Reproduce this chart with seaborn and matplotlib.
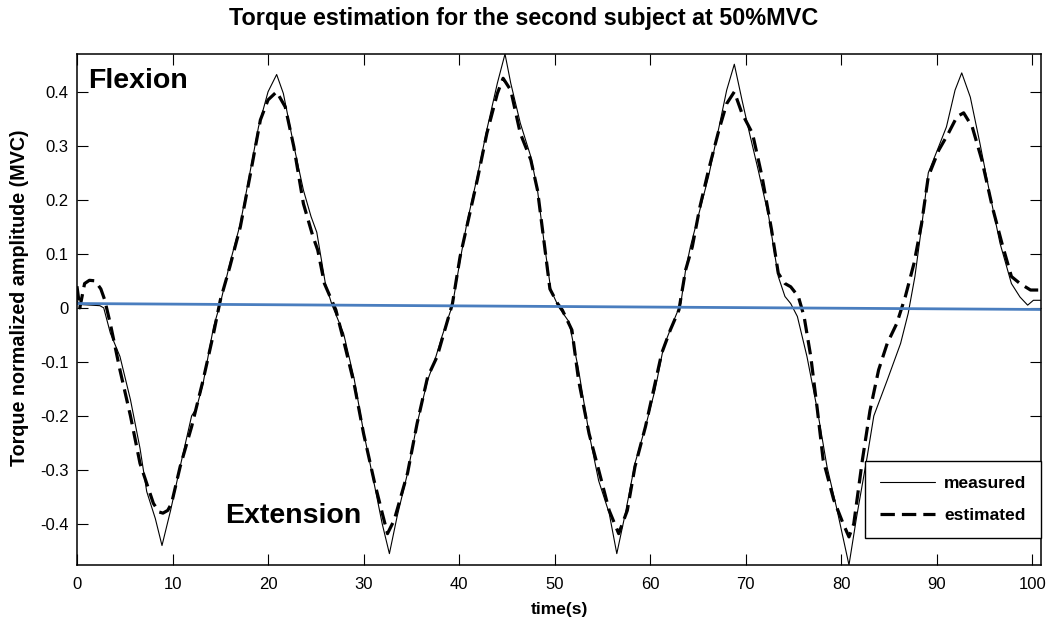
import matplotlib
matplotlib.use("Agg")
import matplotlib.pyplot as plt
import seaborn as sns
import numpy as np

# ---------------- data ----------------
measured_t = [0, 0.5, 1.5, 2.4, 2.8, 3.5, 4.5, 5.6, 6.6, 7.3, 8.2, 8.9, 9.8, 10.8, 12.0, 12.5,
              13.2, 14.3, 15.0, 16.0, 17.1, 18.1, 19.0, 20.0, 20.9, 21.6, 22.7, 23.7, 24.5,
              25.1, 26.0, 26.7, 27.9, 29.0, 30.0, 31.1, 31.95, 32.7, 33.5, 34.6, 35.6, 36.7,
              37.4, 38.2, 39.3, 40.1, 40.8, 41.9, 42.9, 44.0, 44.8, 45.4, 46.4, 47.5, 48.2,
              48.9, 49.6, 50.4, 51.5, 52.5, 53.6, 54.6, 55.7, 56.5, 57.4, 58.4, 59.5, 60.5,
              61.4, 62.5, 63.2, 63.7, 64.2, 65.1, 66.1, 67.2, 68.0, 68.8, 69.6, 70.3, 71.3,
              72.4, 73.4, 74.1, 74.7, 75.4, 76.4, 77.5, 78.5, 79.5, 80.8, 81.6, 82.7, 83.4,
              84.8, 86.2, 87.0, 87.7, 88.4, 89.1, 90.0, 91.0, 91.9, 92.6, 93.5, 94.5, 95.6,
              96.6, 97.8, 98.7, 99.5, 100.1, 100.9]
measured_v = [0.012, 0.006, 0.005, 0.004, 0.0, -0.047, -0.09, -0.17, -0.26, -0.34, -0.39, -0.44,
              -0.375, -0.294, -0.20, -0.186, -0.14, -0.035, 0.008, 0.082, 0.156, 0.25, 0.335,
              0.40, 0.432, 0.397, 0.30, 0.218, 0.169, 0.14, 0.045, 0.005, -0.047, -0.13, -0.23,
              -0.325, -0.40, -0.455, -0.387, -0.306, -0.214, -0.134, -0.10, -0.053, 0.005,
              0.088, 0.156, 0.243, 0.33, 0.416, 0.470, 0.416, 0.342, 0.28, 0.218, 0.12, 0.033,
              0.002, -0.026, -0.115, -0.233, -0.32, -0.38, -0.455, -0.38, -0.288, -0.22,
              -0.152, -0.072, -0.022, 0.008, 0.07, 0.113, 0.175, 0.243, 0.335, 0.403, 0.451,
              0.385, 0.33, 0.255, 0.169, 0.058, 0.021, 0.008, -0.016, -0.09, -0.19, -0.294,
              -0.37, -0.476, -0.387, -0.276, -0.20, -0.134, -0.066, -0.01, 0.058, 0.15, 0.25,
              0.29, 0.335, 0.403, 0.435, 0.39, 0.305, 0.206, 0.12, 0.045, 0.02, 0.005, 0.014,
              0.014]

estimated_t = [0, 0.3, 0.8, 1.3, 1.9, 2.5, 2.9, 3.5, 4.5, 5.6, 6.6, 7.3, 8.0, 8.6, 9.0, 9.5,
               9.9, 10.8, 12.0, 13.2, 14.3, 15.0, 16.0, 17.1, 18.1, 19.2, 20.0, 20.9, 21.8,
               22.7, 23.7, 24.7, 25.2, 25.9, 27.1, 27.9, 29.0, 30.0, 31.1, 31.95, 32.5, 33.2,
               34.6, 35.6, 36.7, 37.7, 38.4, 39.3, 40.1, 40.8, 41.9, 42.9, 44.0, 44.6, 45.4,
               46.4, 47.5, 48.2, 48.9, 49.5, 50.3, 50.8, 51.8, 52.5, 53.6, 54.6, 55.7, 56.7,
               57.6, 58.4, 59.5, 60.5, 61.2, 62.1, 63.0, 63.7, 64.4, 65.2, 66.1, 67.2, 68.0,
               68.8, 69.6, 70.7, 71.7, 72.7, 73.4, 74.1, 74.7, 75.5, 76.1, 76.8, 77.5, 78.1,
               79.2, 80.2, 80.8, 81.3, 82.2, 83.0, 83.9, 84.8, 85.8, 86.7, 87.6, 88.4, 89.1,
               90.2, 91.2, 92.1, 92.8, 93.7, 94.7, 95.8, 96.8, 97.8, 98.7, 99.8, 100.9]
estimated_v = [0.04, 0.0, 0.045, 0.051, 0.05, 0.035, 0.015, -0.03, -0.115, -0.2, -0.288,
               -0.325, -0.362, -0.378, -0.38, -0.375, -0.362, -0.294, -0.22, -0.134, -0.047,
               0.014, 0.076, 0.15, 0.243, 0.348, 0.385, 0.40, 0.372, 0.298, 0.193, 0.132,
               0.107, 0.045, -0.004, -0.06, -0.14, -0.233, -0.32, -0.38, -0.418, -0.393,
               -0.306, -0.214, -0.128, -0.09, -0.047, 0.008, 0.095, 0.15, 0.237, 0.323, 0.397,
               0.425, 0.403, 0.323, 0.274, 0.218, 0.12, 0.035, 0.008, -0.004, -0.041, -0.134,
               -0.233, -0.30, -0.375, -0.418, -0.375, -0.294, -0.22, -0.14, -0.084, -0.041,
               -0.004, 0.07, 0.113, 0.187, 0.255, 0.33, 0.378, 0.40, 0.36, 0.323, 0.243,
               0.144, 0.064, 0.045, 0.039, 0.021, -0.016, -0.09, -0.19, -0.282, -0.355, -0.40,
               -0.424, -0.40, -0.282, -0.19, -0.115, -0.066, -0.029, 0.021, 0.082, 0.156,
               0.243, 0.292, 0.323, 0.354, 0.361, 0.335, 0.274, 0.187, 0.12, 0.058, 0.045,
               0.033, 0.033]

trend_t = [0, 101]
trend_v = [0.008, -0.003]

x_ticks = [0, 10, 20, 30, 40, 50, 60, 70, 80, 90, 100]
y_ticks = [-0.4, -0.3, -0.2, -0.1, 0, 0.1, 0.2, 0.3, 0.4]
y_tick_labels = ["-0.4", "-0.3", "-0.2", "-0.1", "0", "0.1", "0.2", "0.3", "0.4"]

# ---------------- style ----------------
sns.set_theme(style="white")
plt.rcParams['font.family'] = ['Liberation Sans', 'DejaVu Sans']
plt.rcParams['text.color'] = 'black'
plt.rcParams['axes.labelcolor'] = 'black'
plt.rcParams['xtick.color'] = 'black'
plt.rcParams['ytick.color'] = 'black'

fig = plt.figure(figsize=(10.47, 6.24), dpi=100)
ax = fig.add_axes([0.0735, 0.0946, 0.9208, 0.8189])

sns.lineplot(x=measured_t, y=measured_v, ax=ax, color="black", linewidth=0.8,
             sort=False, estimator=None, label="measured")
sns.lineplot(x=estimated_t, y=estimated_v, ax=ax, color="black", linewidth=2.3,
             sort=False, estimator=None, label="estimated")
ax.lines[1].set_dashes((4.5, 2.2))
sns.lineplot(x=trend_t, y=trend_v, ax=ax, color="#4a7ebf", linewidth=2.0,
             sort=False, estimator=None, legend=False)

ax.set_xlim(0, 100.9)
ax.set_ylim(-0.476, 0.470)
ax.set_xticks(x_ticks)
ax.set_xticklabels([str(t) for t in x_ticks])
ax.set_yticks(y_ticks)
ax.set_yticklabels(y_tick_labels)

ax.tick_params(axis="both", which="both", direction="in", length=8, width=0.8,
               top=True, right=True, bottom=True, left=True, labelsize=12,
               colors="black", pad=6)
ax.tick_params(axis="x", pad=9)
for s in ax.spines.values():
    s.set_color("black")
    s.set_linewidth(1.1)

fig.text(0.5, 1 - 18 / 624, "Torque estimation for the second subject at 50%MVC",
         fontsize=16.8, fontweight="bold", ha="center", va="center", color="black")
ax.set_xlabel("time(s)", fontsize=12.5, fontweight="bold", labelpad=7)
ax.set_ylabel("Torque normalized amplitude (MVC)", fontsize=14.2, fontweight="bold")
ax.yaxis.set_label_coords(-0.05, 0.522)

ax.text(1.2, 0.42, "Flexion", fontsize=20.5, fontweight="bold", va="center", ha="left")
ax.text(15.5, -0.385, "Extension", fontsize=20.5, fontweight="bold", va="center", ha="left")

leg = ax.legend(loc="lower right", bbox_to_anchor=(1.0, 0.053), borderaxespad=0,
                fancybox=False, framealpha=1, edgecolor="black",
                prop={"weight": "bold", "size": 12.5}, handlelength=3.2,
                borderpad=0.85, labelspacing=1.0, handletextpad=0.5)
leg.get_frame().set_linewidth(1.0)
for t in leg.get_texts():
    t.set_color("black")

fig.savefig("out.png", dpi=100)
